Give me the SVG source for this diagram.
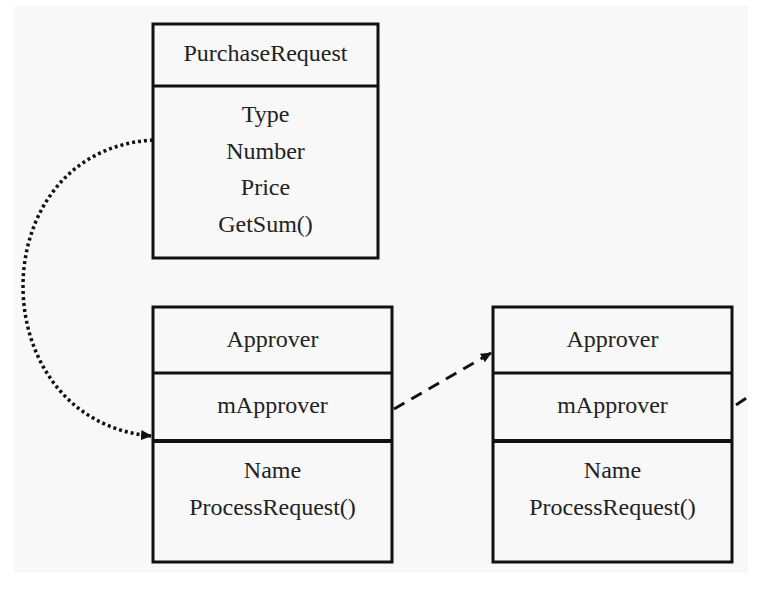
<svg xmlns="http://www.w3.org/2000/svg" width="770" height="610" viewBox="0 0 770 610">
<style>
.box{fill:none;stroke:#111;stroke-width:3}
.div{stroke:#111;stroke-width:3}
.thick{stroke:#111;stroke-width:4}
.t{font-family:'Liberation Serif','DejaVu Serif',serif;font-size:24px;fill:#222;text-anchor:middle}
.dot{fill:none;stroke:#111;stroke-width:3.5;stroke-dasharray:3 3}
.dash{fill:none;stroke:#111;stroke-width:3;stroke-dasharray:12 8}
</style>
<defs>
<marker id="ah" markerWidth="12" markerHeight="12" refX="10" refY="6" orient="auto" markerUnits="userSpaceOnUse">
<path d="M0,1 L11,6 L0,11 Z" fill="#111"/>
</marker>
</defs>
<rect x="14" y="6" width="734" height="567" fill="#f8f8f8"/>
<g id="purchaseRequest">
<rect class="box" x="153" y="24" width="225" height="234"/>
<line class="div" x1="153" y1="86" x2="378" y2="86"/>
<text class="t" x="265.5" y="61">PurchaseRequest</text>
<text class="t" x="265.5" y="122">Type</text>
<text class="t" x="265.5" y="159">Number</text>
<text class="t" x="265.5" y="195">Price</text>
<text class="t" x="265.5" y="232">GetSum()</text>
</g>
<g id="approver1">
<rect class="box" x="153" y="307" width="239" height="255"/>
<line class="div" x1="153" y1="373" x2="392" y2="373"/>
<line class="thick" x1="153" y1="441" x2="392" y2="441"/>
<text class="t" x="272.5" y="347">Approver</text>
<text class="t" x="272.5" y="413">mApprover</text>
<text class="t" x="272.5" y="478">Name</text>
<text class="t" x="272.5" y="515">ProcessRequest()</text>
</g>
<g id="approver2">
<rect class="box" x="493" y="307" width="239" height="255"/>
<line class="div" x1="493" y1="373" x2="732" y2="373"/>
<line class="thick" x1="493" y1="441" x2="732" y2="441"/>
<text class="t" x="612.5" y="347">Approver</text>
<text class="t" x="612.5" y="413">mApprover</text>
<text class="t" x="612.5" y="478">Name</text>
<text class="t" x="612.5" y="515">ProcessRequest()</text>
</g>
<g id="connectors">
<path class="dot" d="M153,140 C-20,150 -20,420 151,436" marker-end="url(#ah)"/>
<path class="dash" d="M394,409 L491,353" marker-end="url(#ah)"/>
<path class="dash" d="M736,405 L748,397"/>
</g>
</svg>
